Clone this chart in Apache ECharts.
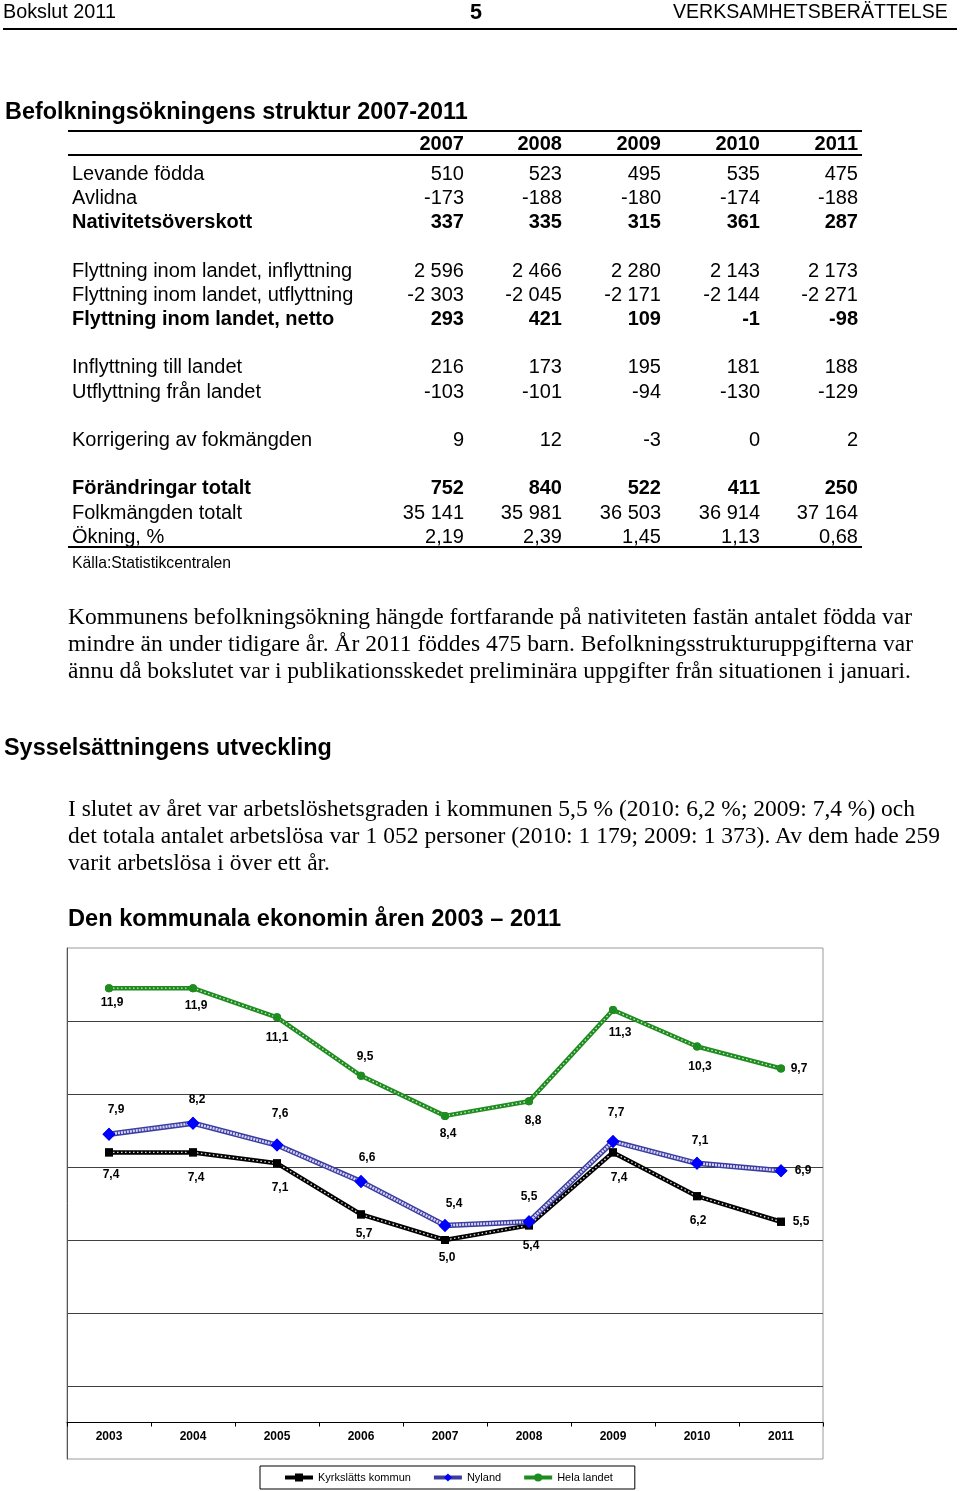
<!DOCTYPE html>
<html>
<head>
<meta charset="utf-8">
<script src="https://cdn.jsdelivr.net/npm/echarts@6/dist/echarts.min.js"></script>
<style>
html,body{margin:0;padding:0;background:#fff;}
#page{position:relative;width:960px;height:1491px;overflow:hidden;background:#fff;}
#chart{position:absolute;left:0;top:0;width:960px;height:1491px;}
.t{position:absolute;white-space:nowrap;line-height:1.2;color:#000;}
.sans{font-family:"Liberation Sans",Arial,sans-serif;}
.serif{font-family:"Liberation Serif","Times New Roman",serif;}
.b{font-weight:bold;}
.rule{position:absolute;background:#000;}
</style>
</head>
<body>
<div id="page">
  <div id="chart"></div>
</div>
<script>
// ---------- Table data (Befolkningsökningens struktur 2007-2011) ----------
const tableYears = ['2007', '2008', '2009', '2010', '2011'];
const levandeFodda = [510, 523, 495, 535, 475];
const avlidna = [-173, -188, -180, -174, -188];
const nativitetsoverskott = [337, 335, 315, 361, 287];
const flyttInflyttning = [2596, 2466, 2280, 2143, 2173];
const flyttUtflyttning = [-2303, -2045, -2171, -2144, -2271];
const flyttNetto = [293, 421, 109, -1, -98];
const inflyttningLandet = [216, 173, 195, 181, 188];
const utflyttningLandet = [-103, -101, -94, -130, -129];
const korrigering = [9, 12, -3, 0, 2];
const forandringar = [752, 840, 522, 411, 250];
const folkmangd = [35141, 35981, 36503, 36914, 37164];
const okning = [2.19, 2.39, 1.45, 1.13, 0.68];

// ---------- Chart data (arbetslöshetsgrad, %) ----------
const years = ['2003', '2004', '2005', '2006', '2007', '2008', '2009', '2010', '2011'];
const kyrkslatt = [7.4, 7.4, 7.1, 5.7, 5.0, 5.4, 7.4, 6.2, 5.5];
const nyland = [7.9, 8.2, 7.6, 6.6, 5.4, 5.5, 7.7, 7.1, 6.9];
const helaLandet = [11.9, 11.9, 11.1, 9.5, 8.4, 8.8, 11.3, 10.3, 9.7];
const seriesNames = ['Kyrkslätts kommun', 'Nyland', 'Hela landet'];

// label placement (layout only): offset of each data label from its point
const kyrkLabelOffset = [[2,22],[3,25],[3,24],[3,19],[2,18],[2,20],[6,25],[1,24],[20,0]];
const nylandLabelOffset = [[7,-24],[4,-24],[3,-31],[6,-24],[9,-22],[0,-25],[3,-29],[3,-23],[22,0]];
const helaLabelOffset = [[3,15],[3,18],[0,20],[4,-19],[3,18],[4,19],[7,23],[3,20],[18,0]];

// ---------- page text ----------
const page = document.getElementById('page');
function txt(s, o) {
  const d = document.createElement('div');
  d.className = 't ' + (o.serif ? 'serif' : 'sans') + (o.bold ? ' b' : '');
  d.textContent = s;
  d.style.fontSize = o.fs + 'px';
  page.appendChild(d);
  let fs = o.fs;
  if (o.fit) {
    const w0 = d.getBoundingClientRect().width;
    fs = o.fs * o.fit / w0;
    d.style.fontSize = fs + 'px';
  }
  if (o.just) {
    const w0 = d.getBoundingClientRect().width;
    const n = (s.match(/ /g) || []).length;
    if (n) d.style.wordSpacing = ((o.just - w0) / n) + 'px';
  }
  const w = d.getBoundingClientRect().width;
  const left = (o.right != null) ? (o.right - w) : o.x;
  d.style.left = left + 'px';
  d.style.top = (o.cy - (o.serif ? 0.6 : 0.59) * fs) + 'px';
}
function rule(x, y, w, h) {
  const d = document.createElement('div');
  d.className = 'rule';
  d.style.left = x + 'px'; d.style.top = y + 'px';
  d.style.width = w + 'px'; d.style.height = h + 'px';
  page.appendChild(d);
}
function fmtNum(v, dec) {
  const s = Math.abs(v).toFixed(dec);
  let [i, d] = s.split('.');
  i = i.replace(/\B(?=(\d{3})+(?!\d))/g, ' ');
  return (v < 0 ? '-' : '') + i + (d ? ',' + d : '');
}

// header
txt('Bokslut 2011', {x: 3, cy: 12, fs: 19.5, fit: 113});
txt('5', {x: 470, cy: 12, fs: 21.6, bold: true, fit: 12});
txt('VERKSAMHETSBERÄTTELSE', {x: 673, cy: 12, fs: 20, fit: 275});
rule(3, 28, 954, 2);

txt('Befolkningsökningens struktur 2007-2011', {x: 5, cy: 111, fs: 22, bold: true, fit: 463});

// table
const colRight = [464, 562, 661, 760, 858];
rule(68, 130, 794, 2);
tableYears.forEach((y, i) => txt(y, {right: colRight[i], cy: 143, fs: 20, bold: true}));
rule(68, 154, 794, 2);
const rows = [
  ['Levande födda', levandeFodda, false, 0, 0],
  ['Avlidna', avlidna, false, 0, 1],
  ['Nativitetsöverskott', nativitetsoverskott, true, 0, 2],
  ['Flyttning inom landet, inflyttning', flyttInflyttning, false, 0, 4],
  ['Flyttning inom landet, utflyttning', flyttUtflyttning, false, 0, 5],
  ['Flyttning inom landet, netto', flyttNetto, true, 0, 6],
  ['Inflyttning till landet', inflyttningLandet, false, 0, 8],
  ['Utflyttning från landet', utflyttningLandet, false, 0, 9],
  ['Korrigering av fokmängden', korrigering, false, 0, 11],
  ['Förändringar totalt', forandringar, true, 0, 13],
  ['Folkmängden totalt', folkmangd, false, 0, 14],
  ['Ökning, %', okning, false, 2, 15]
];
rows.forEach(r => {
  const cy = 172.5 + 24.2 * r[4];
  txt(r[0], {x: 72, cy: cy, fs: 20, bold: r[2]});
  r[1].forEach((v, i) => txt(fmtNum(v, r[3]), {right: colRight[i], cy: cy, fs: 20, bold: r[2]}));
});
rule(68, 546, 794, 2);
txt('Källa:Statistikcentralen', {x: 72, cy: 563, fs: 15.7, fit: 159});

// paragraph 1
const p1 = [
  ['Kommunens befolkningsökning hängde fortfarande på nativiteten fastän antalet födda var', 844, 616],
  ['mindre än under tidigare år. År 2011 föddes 475 barn. Befolkningsstrukturuppgifterna var', 845, 643],
  ['ännu då bokslutet var i publikationsskedet preliminära uppgifter från situationen i januari.', 843, 670]
];
p1.forEach(l => txt(l[0], {x: 68, cy: l[2], fs: 23.5, serif: true, just: l[1]}));

txt('Sysselsättningens utveckling', {x: 4, cy: 747, fs: 22, bold: true, fit: 328});

const p2 = [
  ['I slutet av året var arbetslöshetsgraden i kommunen 5,5 % (2010: 6,2 %; 2009: 7,4 %) och', 847, 808],
  ['det totala antalet arbetslösa var 1 052 personer (2010: 1 179; 2009: 1 373). Av dem hade 259', 872, 835],
  ['varit arbetslösa i över ett år.', 262, 862]
];
p2.forEach(l => txt(l[0], {x: 68, cy: l[2], fs: 23.5, serif: true, just: l[1]}));

// ---------- chart ----------
const chart = echarts.init(document.getElementById('chart'), null, {renderer: 'canvas'});
const fmt1 = v => v.toFixed(1).replace('.', ',');
const labelStyle = {
  show: true, position: 'inside',
  formatter: p => fmt1(p.value),
  fontFamily: 'Liberation Sans', fontWeight: 'bold', fontSize: 12, color: '#000'
};
function layers(name, values, offsets, st) {
  return [
    {
      name: name, type: 'line', data: values.map((v, i) => ({value: v, label: {offset: offsets[i]}})),
      symbol: st.symbol, symbolSize: st.size, showAllSymbol: true,
      itemStyle: {color: st.marker}, lineStyle: {color: st.line, width: st.width},
      label: labelStyle, z: 3
    },
    {
      name: name + ' (mönster)', type: 'line', data: values, symbol: 'none', silent: true,
      lineStyle: {color: st.dot, width: st.dotWidth, type: st.dotType, opacity: st.dotOpacity}, z: 4
    },
    {
      name: name + ' (markör)', type: 'line', data: values, symbol: st.symbol, symbolSize: st.size,
      showAllSymbol: true, silent: true,
      itemStyle: {color: st.marker}, lineStyle: {width: 0, opacity: 0}, z: 5
    }
  ];
}
const series = [].concat(
  layers(seriesNames[0], kyrkslatt, kyrkLabelOffset,
    {symbol: 'rect', size: 8, marker: '#000', line: '#000', width: 4.5, dot: '#ffffff', dotWidth: 1.4, dotType: [1.5, 2.5], dotOpacity: 0.85}),
  layers(seriesNames[1], nyland, nylandLabelOffset,
    {symbol: 'diamond', size: 13, marker: '#0000ff', line: '#3c3ca0', width: 5.5, dot: '#d4d4f6', dotWidth: 2.6, dotType: [2, 1], dotOpacity: 1}),
  layers(seriesNames[2], helaLandet, helaLabelOffset,
    {symbol: 'circle', size: 8, marker: '#1f8c1f', line: '#1f8c1f', width: 4.5, dot: '#e8f5e8', dotWidth: 1.4, dotType: [1.5, 2.5], dotOpacity: 0.85})
);

chart.setOption({
  animation: false,
  backgroundColor: 'transparent',
  title: {
    text: 'Den kommunala ekonomin åren 2003 – 2011',
    left: 68, top: 907, padding: 0,
    textStyle: {fontFamily: 'Liberation Sans', fontWeight: 'bold', fontSize: 23.6, lineHeight: 24, color: '#000'}
  },
  legend: {
    data: seriesNames,
    left: 260, top: 1466, orient: 'horizontal',
    padding: [6, 22, 6, 23], itemGap: 21, itemWidth: 28, itemHeight: 10,
    borderColor: '#000', borderWidth: 1, backgroundColor: '#fff',
    lineStyle: {width: 4},
    textStyle: {fontFamily: 'Liberation Sans', fontSize: 11, color: '#000'}
  },
  grid: {
    left: 67, top: 948, right: 137, bottom: 32,
    show: true, borderColor: '#9a9a9a', borderWidth: 1, backgroundColor: 'transparent'
  },
  xAxis: {
    type: 'category', data: years, boundaryGap: true,
    position: 'bottom', offset: -36.5,
    axisLine: {onZero: false, lineStyle: {color: '#000', width: 1}},
    axisTick: {show: true, length: 4, lineStyle: {color: '#000'}},
    axisLabel: {interval: 0, margin: 8, fontFamily: 'Liberation Sans', fontWeight: 'bold', fontSize: 12, color: '#000'},
    splitLine: {show: false}
  },
  yAxis: {
    type: 'value', min: -1, max: 13, interval: 2,
    axisLabel: {show: false}, axisTick: {show: false},
    axisLine: {show: true, lineStyle: {color: '#555'}},
    splitLine: {show: true, showMinLine: false, showMaxLine: false, lineStyle: {color: '#404040', width: 1}}
  },
  series: series
});
</script>
</body>
</html>
